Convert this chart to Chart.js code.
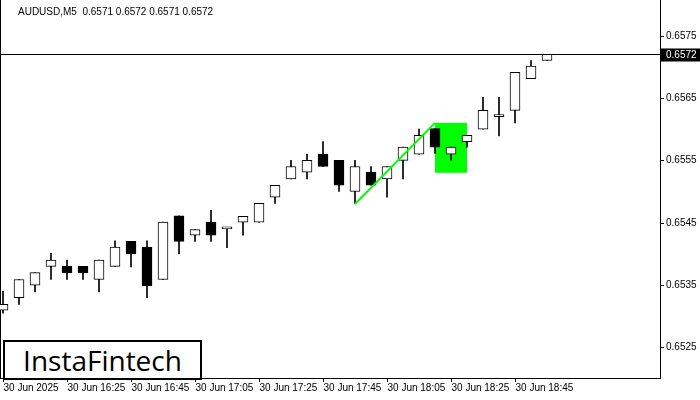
<!DOCTYPE html>
<html><head><meta charset="utf-8">
<script src="https://cdn.jsdelivr.net/npm/chart.js@4"></script>
<style>
html,body{margin:0;padding:0;background:#fff;}
#wrap{position:relative;width:700px;height:400px;}
#logo{position:absolute;left:3px;top:340px;width:195px;height:36px;border:2px solid #000;background:#fff;font-family:"Open Sans",sans-serif;font-size:28px;line-height:36px;text-align:center;color:#000;}
</style></head>
<body><div id="wrap"><canvas id="c" width="700" height="400"></canvas><div id="logo">InstaFintech</div></div>
<script>
const title = "AUDUSD,M5  0.6571 0.6572 0.6571 0.6572";
const opens  = [0.65310,0.65330,0.65350,0.65380,0.65380,0.65380,0.65359,0.65380,0.65420,0.65411,0.65359,0.65461,0.65430,0.65451,0.65440,0.65451,0.65451,0.65491,0.65520,0.65531,0.65560,0.65550,0.65500,0.65531,0.65520,0.65550,0.65560,0.65601,0.65560,0.65580,0.65600,0.65620,0.65630,0.65681,0.65710];
const highs  = [0.65340,0.65359,0.65370,0.65401,0.65390,0.65380,0.65390,0.65421,0.65420,0.65421,0.65451,0.65461,0.65439,0.65470,0.65440,0.65460,0.65481,0.65510,0.65550,0.65560,0.65580,0.65550,0.65550,0.65540,0.65540,0.65571,0.65600,0.65601,0.65571,0.65590,0.65651,0.65651,0.65691,0.65710,0.65720];
const lows   = [0.65305,0.65319,0.65339,0.65359,0.65359,0.65359,0.65339,0.65380,0.65379,0.65330,0.65359,0.65400,0.65420,0.65420,0.65410,0.65430,0.65451,0.65481,0.65520,0.65520,0.65540,0.65500,0.65481,0.65510,0.65491,0.65520,0.65560,0.65561,0.65550,0.65571,0.65600,0.65589,0.65610,0.65681,0.65710];
const closes = [0.65319,0.65359,0.65370,0.65390,0.65370,0.65370,0.65390,0.65411,0.65400,0.65349,0.65451,0.65420,0.65439,0.65430,0.65440,0.65460,0.65481,0.65510,0.65540,0.65550,0.65540,0.65510,0.65540,0.65510,0.65540,0.65571,0.65590,0.65571,0.65571,0.65590,0.65630,0.65620,0.65691,0.65701,0.65720];
const xTickIdx = [0,4,8,12,16,20,24,28,32];
const xTickLabels = ["30 Jun 2025","30 Jun 16:25","30 Jun 16:45","30 Jun 17:05","30 Jun 17:25","30 Jun 17:45","30 Jun 18:05","30 Jun 18:25","30 Jun 18:45"];
const yTicks = [0.6525,0.6535,0.6545,0.6555,0.6565,0.6575];
const lastPrice = 0.6572;
const patternBox = {from:27, to:29, low:0.6553, high:0.6561};
const trendLine = [{x:22,y:0.6548},{x:27,y:0.6561}];

const idx = opens.map((_,i)=>i);
const wickData = idx.map(i=>({x:i,y:[lows[i],highs[i]]}));
const bodyData = idx.map(i=>({x:i,y:[opens[i],closes[i]]}));
const bodyColors = idx.map(i=>closes[i]>=opens[i]?'#ffffff':'#000000');
const FONT = '10px "Liberation Sans",Arial,sans-serif';

const overlay = {
  id:'overlay',
  afterDatasetsDraw(chart){
    const {ctx, chartArea:a, scales:{x,y}} = chart;
    ctx.save();
    ctx.font=FONT;ctx.textBaseline='middle';ctx.fillStyle='#000';ctx.strokeStyle='#000';ctx.lineWidth=1;
    yTicks.forEach(v=>{
      const p=Math.round(y.getPixelForValue(v))+0.5;
      ctx.beginPath();ctx.moveTo(a.right,p);ctx.lineTo(a.right+4,p);ctx.stroke();
      ctx.fillText(v.toFixed(4),a.right+6,p);
    });
    xTickIdx.forEach((v,k)=>{
      const p=Math.round(x.getPixelForValue(v))+0.5;
      ctx.beginPath();ctx.moveTo(p,a.bottom);ctx.lineTo(p,a.bottom+4);ctx.stroke();
      ctx.fillText(xTickLabels[k],p,a.bottom+10);
    });
    const py = Math.round(y.getPixelForValue(lastPrice))+0.5;
    ctx.beginPath();ctx.moveTo(a.left,py);ctx.lineTo(a.right,py);ctx.stroke();
    ctx.fillRect(a.right+1,py-6,39,13);
    ctx.fillStyle='#fff';
    ctx.fillText(lastPrice.toFixed(4),a.right+6,py+0.5);
    ctx.fillStyle='#000';
    ctx.fillText(title,18,12);
    ctx.restore();
  },
  beforeDatasetsDraw(chart){
    const {ctx, chartArea:a, scales:{x,y}} = chart;
    ctx.save();
    ctx.fillStyle='#00ff00';
    const x1=x.getPixelForValue(patternBox.from), x2=x.getPixelForValue(patternBox.to);
    const y1=y.getPixelForValue(patternBox.high), y2=y.getPixelForValue(patternBox.low);
    ctx.fillRect(x1,y1,x2-x1,y2-y1);
    ctx.strokeStyle='#000';ctx.lineWidth=1;
    ctx.beginPath();ctx.moveTo(a.left+0.5,a.top);ctx.lineTo(a.left+0.5,a.bottom);ctx.stroke();
    ctx.restore();
  }
};

new Chart(document.getElementById('c'),{
  type:'bar',
  data:{datasets:[
    {type:'line',data:trendLine,borderColor:'#00ff00',borderWidth:2,pointRadius:0,order:0},
    {data:bodyData,backgroundColor:bodyColors,borderColor:'#000',borderWidth:1,borderSkipped:false,barThickness:10,minBarLength:2,grouped:false,order:1},
    {data:wickData,backgroundColor:'#000',barThickness:1,grouped:false,order:2}
  ]},
  options:{
    responsive:false,animation:false,
    layout:{padding:0},
    plugins:{legend:{display:false},tooltip:{enabled:false}},
    scales:{
      x:{type:'linear',min:-0.1875,max:41.0625,offset:false,
        grid:{display:false},border:{display:true,color:'#000'},
        afterFit:s=>{s.height=22;},
        ticks:{display:false}
      },
      y:{position:'right',min:0.652011,max:0.658069,
        grid:{display:false},border:{display:true,color:'#000'},
        afterFit:s=>{s.width=40;},
        ticks:{display:false}
      }
    }
  },
  plugins:[overlay]
});
</script></body></html>
